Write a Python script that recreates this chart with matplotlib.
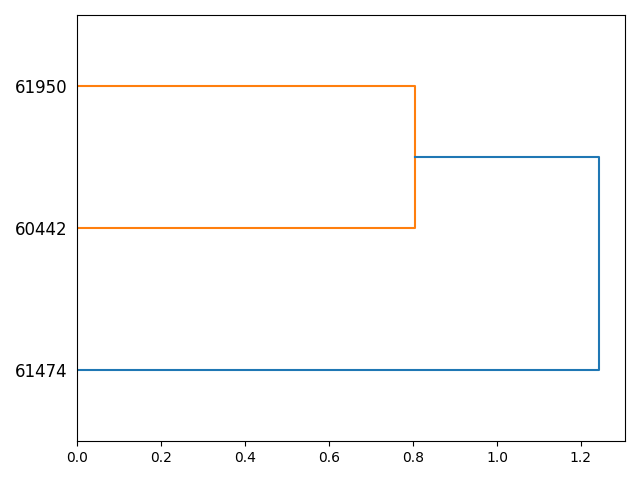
import matplotlib
matplotlib.use("Agg")
import matplotlib.pyplot as plt

# leaf labels, bottom to top
labels = ["61474", "60442", "61950"]
leaf_pos = [5, 15, 25]

# link heights and colours
merge_heights = [0.805, 1.243]
merge_colors = ["C1", "C0"]

fig, ax = plt.subplots(figsize=(6.4, 4.8), dpi=100)

# first link: 61950 + 60442
h1 = merge_heights[0]
ax.plot([0, h1, h1, 0], [leaf_pos[2], leaf_pos[2], leaf_pos[1], leaf_pos[1]],
        color=merge_colors[0])
mid1 = (leaf_pos[2] + leaf_pos[1]) / 2

# second link: cluster + 61474
h2 = merge_heights[1]
ax.plot([h1, h2, h2, 0], [mid1, mid1, leaf_pos[0], leaf_pos[0]],
        color=merge_colors[1])

ax.set_ylim(0, 30)
ax.set_xlim(0, h2 * 1.05)
ax.set_yticks(leaf_pos)
ax.set_yticklabels(labels, fontsize=12)
ax.tick_params(axis="y", width=0)

plt.tight_layout()
plt.savefig("out.png")
